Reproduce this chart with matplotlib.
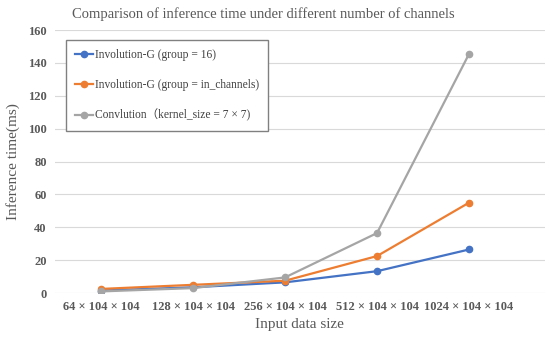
import matplotlib
matplotlib.use('Agg')
import matplotlib.pyplot as plt

categories = ['64 × 104 × 104', '128 × 104 × 104', '256 × 104 × 104',
              '512 × 104 × 104', '1024 × 104 × 104']
group16 = [1.5, 3.5, 6.5, 13.3, 26.5]
group_in = [2.5, 5.0, 7.5, 22.5, 55.0]
conv7 = [1.0, 3.0, 9.5, 36.5, 145.5]
labels = ['Involution-G (group = 16)',
          'Involution-G (group = in_channels)',
          'Convlution（kernel_size = 7 × 7)']

plt.rcParams['font.family'] = ['Liberation Serif', 'Noto Sans CJK SC', 'DejaVu Sans']

fig = plt.figure(figsize=(5.5, 3.38), dpi=100)
ax = fig.add_axes([0.1, 0.133, 0.89, 0.778])

x = list(range(len(categories)))
colors = ['#4472C4', '#ED7D31', '#A5A5A5']
for ys, c, lab in zip([group16, group_in, conv7], colors, labels):
    ax.plot(x, ys, color=c, lw=1.6, marker='o', markersize=4.5, label=lab)

ax.set_xlim(-0.5, 4.82)
ax.set_ylim(0, 160)
ax.set_yticks(range(0, 161, 20))
ax.set_xticks(x)
ax.set_xticklabels(categories)
ax.grid(axis='y', color='#D9D9D9', lw=0.8)
ax.set_axisbelow(True)
for s in ax.spines.values():
    s.set_visible(False)
ax.tick_params(length=0, labelsize=9, colors='#595959', pad=6)
for t in ax.get_yticklabels() + ax.get_xticklabels():
    t.set_fontweight('bold')

ax.set_title('Comparison of inference time under different number of channels',
             fontsize=10.5, color='#595959', pad=9, x=0.425)
ax.set_xlabel('Input data size', fontsize=11, color='#595959', labelpad=3)
ax.set_ylabel('Inference time(ms)', fontsize=11, color='#595959', labelpad=6)

leg = ax.legend(loc='upper left', bbox_to_anchor=(0.022, 0.962), borderaxespad=0,
                fontsize=8.3, labelspacing=1.55, handlelength=1.6, handletextpad=0.1,
                fancybox=False, framealpha=1, edgecolor='#808080',
                borderpad=0.8)
for t in leg.get_texts():
    t.set_color('#404040')

fig.savefig('out.png', dpi=100)
